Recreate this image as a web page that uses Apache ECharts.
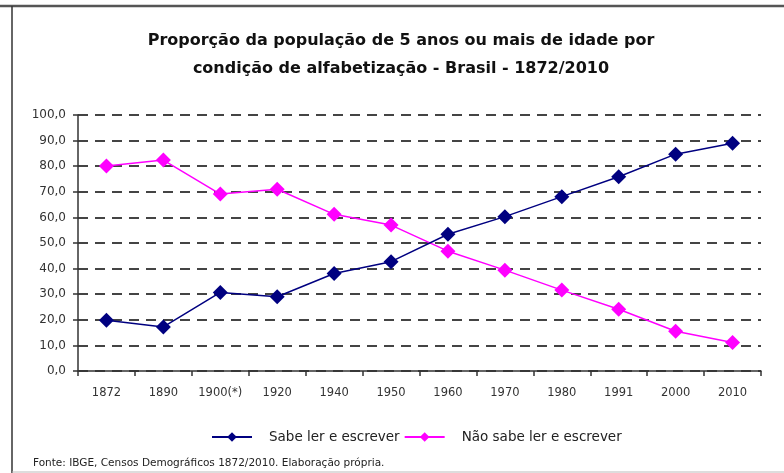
<!DOCTYPE html>
<html>
<head>
<meta charset="utf-8">
<script src="https://cdn.jsdelivr.net/npm/echarts@6/dist/echarts.min.js"></script>
<style>
  html, body { margin: 0; padding: 0; background: #fff; }
  #chart { width: 784px; height: 473px; }
</style>
</head>
<body>
<div id="chart"></div>
<script>
var years = ["1872", "1890", "1900(*)", "1920", "1940", "1950", "1960", "1970", "1980", "1991", "2000", "2010"];
var sabeLer = [19.8, 17.2, 30.7, 29.0, 38.1, 42.7, 53.4, 60.3, 68.1, 75.9, 84.7, 89.0];
var naoSabeLer = [80.1, 82.4, 69.1, 71.0, 61.2, 57.0, 46.8, 39.4, 31.6, 24.1, 15.5, 11.1];
var seriesNames = ["Sabe ler e escrever", "Não sabe ler e escrever"];
var seriesColors = ["#000080", "#ff00ff"];

var font = "DejaVu Sans, Verdana, sans-serif";
var myChart = echarts.init(document.getElementById("chart"));

var option = {
  animation: false,
  backgroundColor: "#fff",
  textStyle: { fontFamily: font },
  title: {
    text: "Proporção da população de 5 anos ou mais de idade por\ncondição de alfabetização - Brasil - 1872/2010",
    left: 396,
    top: 22,
    textAlign: "center",
    textStyle: {
      fontSize: 16,
      fontWeight: "bold",
      color: "#111",
      lineHeight: 28,
      fontFamily: font
    }
  },
  legend: {
    data: seriesNames,
    left: 206,
    top: 425,
    itemWidth: 40,
    itemHeight: 12,
    itemGap: 4,
    textStyle: { fontSize: 13.5, color: "#222", padding: [0, 0, 0, 12], fontFamily: font }
  },
  grid: {
    left: 78,
    right: 23,
    top: 115,
    bottom: 102,
    containLabel: false
  },
  xAxis: {
    type: "category",
    data: years,
    boundaryGap: true,
    axisLine: { lineStyle: { color: "#333", width: 1.5 } },
    axisTick: { show: true, length: 5, inside: false, interval: 0, lineStyle: { color: "#333", width: 1.5 } },
    axisLabel: { fontSize: 11.5, color: "#333", margin: 16, interval: 0, fontFamily: font },
    splitLine: { show: false }
  },
  yAxis: {
    type: "value",
    min: 0,
    max: 100,
    interval: 10,
    axisLine: { show: true, lineStyle: { color: "#333", width: 1.5 } },
    axisTick: { show: true, length: 5, lineStyle: { color: "#333", width: 1.5 } },
    axisLabel: {
      fontSize: 12,
      color: "#333",
      margin: 12,
      fontFamily: font,
      formatter: function (v) { return v.toFixed(1).replace(".", ","); }
    },
    splitLine: {
      show: true,
      lineStyle: { color: "#444", width: 2, type: [10, 7] }
    }
  },
  graphic: [
    { type: "line", shape: { x1: 0, y1: 6, x2: 784, y2: 6 }, style: { stroke: "#555", lineWidth: 2.5 } },
    { type: "line", shape: { x1: 12, y1: 6, x2: 12, y2: 473 }, style: { stroke: "#333", lineWidth: 1.5 } },
    { type: "line", shape: { x1: 12, y1: 472, x2: 784, y2: 472 }, style: { stroke: "#bbb", lineWidth: 1 } },
    {
      type: "text",
      left: 33,
      top: 458,
      style: {
        text: "Fonte: IBGE, Censos Demográficos 1872/2010. Elaboração própria.",
        fontSize: 10.5,
        fill: "#222",
        fontFamily: font
      }
    }
  ],
  series: [
    {
      name: seriesNames[0],
      type: "line",
      data: sabeLer,
      symbol: "diamond",
      symbolSize: 15,
      itemStyle: { color: seriesColors[0] },
      lineStyle: { color: seriesColors[0], width: 1.5 },
      z: 3
    },
    {
      name: seriesNames[1],
      type: "line",
      data: naoSabeLer,
      symbol: "diamond",
      symbolSize: 15,
      itemStyle: { color: seriesColors[1] },
      lineStyle: { color: seriesColors[1], width: 1.5 },
      z: 2
    }
  ]
};

myChart.setOption(option);
</script>
</body>
</html>
